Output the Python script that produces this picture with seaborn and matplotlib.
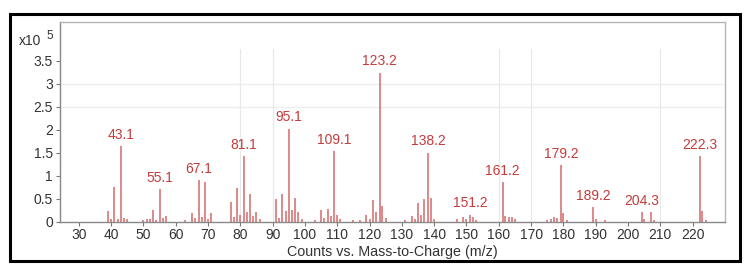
import matplotlib
matplotlib.use("Agg")
import matplotlib.pyplot as plt
import seaborn as sns
import pandas as pd
from matplotlib.patches import Rectangle

# m/z values and abundances (x10^5 counts)
mz = [39, 40, 41, 42, 43.1, 44, 45,
      50, 51, 52, 53, 54, 55.1, 56, 57,
      63, 65, 66, 67.1, 68, 69, 70, 71,
      77, 78, 79, 80, 81.1, 82, 83, 84, 85, 86,
      91, 92, 93, 94, 95.1, 96, 97, 98, 99,
      103, 105, 106, 107, 108, 109.1, 110, 111,
      115, 117, 119, 120, 121, 122, 123.2, 124, 125,
      131, 133, 134, 135, 136, 137, 138.2, 139, 140,
      147, 149, 150, 151.2, 152, 153,
      161.2, 162, 163, 164, 165,
      175, 176, 177, 178, 179.2, 180, 181,
      189.2, 190, 193,
      204.3, 205, 207, 208,
      222.3, 223, 224]
abundance = [0.22, 0.05, 0.75, 0.06, 1.64, 0.07, 0.05,
             0.03, 0.06, 0.05, 0.26, 0.04, 0.71, 0.07, 0.12,
             0.03, 0.18, 0.07, 0.91, 0.10, 0.85, 0.06, 0.19,
             0.43, 0.10, 0.72, 0.15, 1.43, 0.21, 0.60, 0.13, 0.20, 0.05,
             0.48, 0.08, 0.60, 0.22, 2.02, 0.24, 0.52, 0.20, 0.05,
             0.03, 0.26, 0.08, 0.28, 0.12, 1.53, 0.15, 0.06,
             0.03, 0.03, 0.15, 0.05, 0.46, 0.20, 3.24, 0.33, 0.08,
             0.03, 0.12, 0.06, 0.41, 0.15, 0.48, 1.50, 0.51, 0.05,
             0.06, 0.10, 0.05, 0.15, 0.10, 0.04,
             0.85, 0.12, 0.10, 0.10, 0.05,
             0.04, 0.05, 0.10, 0.08, 1.22, 0.18, 0.04,
             0.31, 0.06, 0.03,
             0.20, 0.05, 0.20, 0.04,
             1.43, 0.23, 0.03]
labels = ["43.1", "55.1", "67.1", "81.1", "95.1", "109.1", "123.2",
          "138.2", "151.2", "161.2", "179.2", "189.2", "204.3", "222.3"]

x_ticks = list(range(30, 230, 10))
y_ticks = [0, 0.5, 1, 1.5, 2, 2.5, 3, 3.5]
y_tick_labels = ["0", "0.5", "1", "1.5", "2", "2.5", "3", "3.5"]

df = pd.DataFrame({"mz": mz, "abundance": abundance})

sns.set_style("white")
plt.rcParams["font.family"] = ["Liberation Sans", "DejaVu Sans"]

fig = plt.figure(figsize=(7.5, 2.76), dpi=100)
ax = fig.add_axes([60 / 750, (276 - 221.5) / 276, 665 / 750, 199.5 / 276])

ax.set_xlim(24.2, 230)
ax.set_ylim(0, 4.34)

# faint grid
for gx in [80, 90, 160, 170, 210]:
    ax.axvline(gx, ymin=0, ymax=3.76 / 4.34, color="#e8e8e8", lw=0.9, zorder=0)
for gy in [2.5, 3.0]:
    ax.axhline(gy, color="#ececec", lw=0.9, zorder=0)

bar_color = "#d26a6a"
ax.vlines(df["mz"], 0, df["abundance"], color=bar_color, lw=1.1, zorder=2)

lab_df = df[df["mz"].map(lambda v: f"{v:.1f}" in labels)]
for _, r in lab_df.iterrows():
    ax.annotate(f"{r['mz']:.1f}", (r["mz"], r["abundance"]), xytext=(0, 3),
                textcoords="offset points", ha="center", va="bottom",
                color="#c63b3b", fontsize=10)

ax.set_xticks(x_ticks)
ax.set_xticklabels([str(t) for t in x_ticks])
ax.set_yticks(y_ticks)
ax.set_yticklabels(y_tick_labels)
ax.tick_params(axis="both", which="both", direction="out", length=3, width=0.8,
               color="#777777", labelsize=10, labelcolor="#333333", pad=2,
               bottom=True, left=True)

for side in ["left", "bottom"]:
    ax.spines[side].set_color("#888888")
    ax.spines[side].set_linewidth(1.0)
for side in ["top", "right"]:
    ax.spines[side].set_color("#b5b5b5")
    ax.spines[side].set_linewidth(1.0)

ax.set_xlabel("Counts vs. Mass-to-Charge (m/z)", fontsize=10.3, color="#333333",
              labelpad=2)

fig.text(19 / 750, 1 - 41 / 276, "x10", fontsize=10, color="#333333",
         ha="left", va="center")
fig.text(46 / 750, 1 - 36 / 276, "5", fontsize=8.5, color="#333333",
         ha="left", va="center")

fig.patches.append(Rectangle((10 / 750, 15 / 276), 730 / 750, 247 / 276,
                             transform=fig.transFigure, fill=False,
                             edgecolor="black", lw=2.2, zorder=10))

fig.savefig("out.png", dpi=100)
